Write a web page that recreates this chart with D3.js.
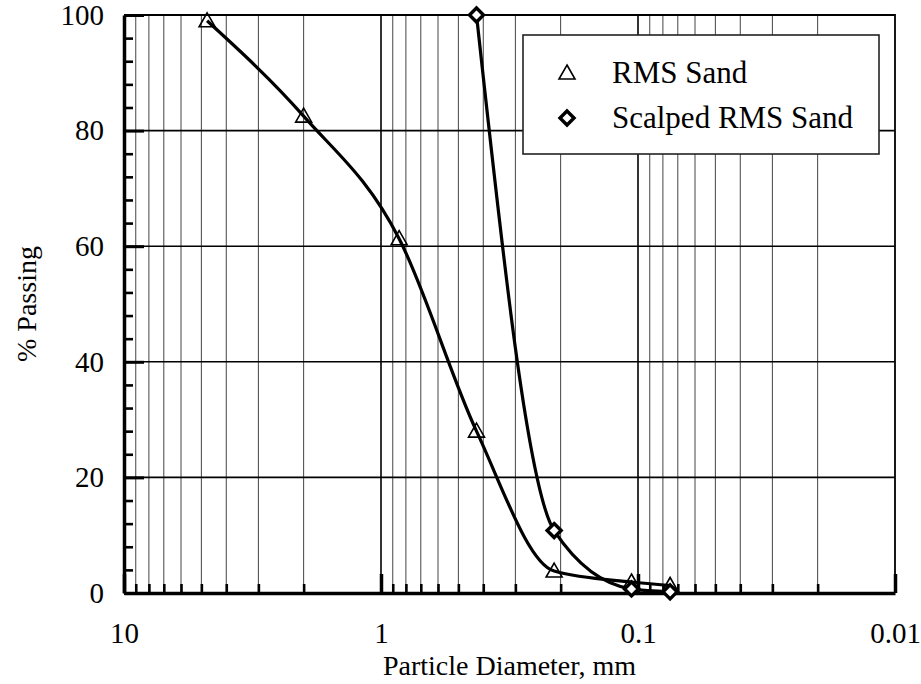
<!DOCTYPE html>
<html>
<head>
<meta charset="utf-8">
<script src="https://cdn.jsdelivr.net/npm/d3@7"></script>
<style>
  body { margin: 0; background: #fff; }
</style>
</head>
<body>
<div class="graph"></div>
<script>
// sieve sizes (mm) and % passing
const rmsSize = [4.75, 2.0, 0.85, 0.425, 0.212, 0.106, 0.075];
const rmsPassing = [99, 82.5, 61.3, 28, 3.8, 1.9, 1.3];
const scalpedSize = [0.425, 0.212, 0.106, 0.075];
const scalpedPassing = [100, 10.8, 0.7, 0.2];

const seriesNames = ['RMS Sand', 'Scalped RMS Sand'];
const xMajor = [10, 1, 0.1, 0.01];
const xMajorLabels = ['10', '1', '0.1', '0.01'];
const yMajor = [0, 20, 40, 60, 80, 100];

const FONT = 'Liberation Serif';
const W = 921, H = 684;
const m = { left: 124, right: 895, top: 15, bottom: 593 };

const svg = d3.select('.graph').append('svg').attr('width', W).attr('height', H);

const x = d3.scaleLog().domain([10, 0.01]).range([m.left, m.right]);
const y = d3.scaleLinear().domain([0, 100]).range([m.bottom, m.top]);

// every 1..9 multiple inside the three decades
const xMinor = x.ticks().filter(v => v > 0.01 && v < 10);
const yMinor = d3.range(0, 101, 4).filter(v => v % 20 !== 0);

// vertical grid
svg.append('g').selectAll('line')
    .data(xMinor)
    .enter().append('line')
    .attr('x1', d => x(d)).attr('x2', d => x(d))
    .attr('y1', m.top).attr('y2', m.bottom)
    .attr('stroke', d => xMajor.includes(d) ? '#000' : '#444')
    .attr('stroke-width', d => xMajor.includes(d) ? 1.6 : 1);

// horizontal grid
svg.append('g').selectAll('line')
    .data(yMajor.filter(v => v > 0 && v < 100))
    .enter().append('line')
    .attr('x1', m.left).attr('x2', m.right)
    .attr('y1', d => y(d)).attr('y2', d => y(d))
    .attr('stroke', '#000').attr('stroke-width', 1.6);

// top and right border
svg.append('path')
    .attr('d', `M${m.left},${m.top}H${m.right}V${m.bottom}`)
    .attr('fill', 'none').attr('stroke', '#000').attr('stroke-width', 1.8);

// bottom axis: minor ticks, then major ticks with labels
const xAxisMinor = d3.axisBottom(x).tickValues(xMinor).tickSizeInner(-9).tickSizeOuter(0).tickFormat('');
const gxm = svg.append('g').attr('transform', `translate(0,${m.bottom})`).call(xAxisMinor);
gxm.selectAll('.tick line').attr('stroke-width', 2.6);
gxm.select('.domain').remove();

const xAxis = d3.axisBottom(x).tickValues(xMajor).tickSizeInner(-19).tickSizeOuter(0)
    .tickPadding(29).tickFormat((d, i) => xMajorLabels[i]);
const gx = svg.append('g').attr('transform', `translate(0,${m.bottom})`).call(xAxis);
gx.selectAll('.tick line').attr('stroke-width', 3.5);
gx.select('.domain').attr('stroke-width', 3.5);
gx.selectAll('text').style('font-family', FONT).style('font-size', '29px');

// left axis
const yAxisMinor = d3.axisLeft(y).tickValues(yMinor).tickSizeInner(-9).tickSizeOuter(0).tickFormat('');
const gym = svg.append('g').attr('transform', `translate(${m.left},0)`).call(yAxisMinor);
gym.selectAll('.tick line').attr('stroke-width', 2.6);
gym.select('.domain').remove();

const yAxis = d3.axisLeft(y).tickValues(yMajor).tickSizeInner(-20).tickSizeOuter(0).tickPadding(20);
const gy = svg.append('g').attr('transform', `translate(${m.left},0)`).call(yAxis);
gy.selectAll('.tick line').attr('stroke-width', 3);
gy.select('.domain').attr('stroke-width', 3.5);
gy.selectAll('text').style('font-family', FONT).style('font-size', '29px');

// axis titles
svg.append('text')
    .attr('x', (m.left + m.right) / 2).attr('y', 675)
    .attr('text-anchor', 'middle')
    .style('font-family', FONT).style('font-size', '28px')
    .text('Particle Diameter, mm');
svg.append('text')
    .attr('transform', `translate(36,${(m.top + m.bottom) / 2}) rotate(-90)`)
    .attr('text-anchor', 'middle')
    .style('font-family', FONT).style('font-size', '28px')
    .text('% Passing');

// smoothed curves, no overshoot below the points
const line = d3.line().x(d => x(d[0])).y(d => y(d[1])).curve(d3.curveMonotoneX);
const rmsPts = d3.zip(rmsSize, rmsPassing);
const scalpedPts = d3.zip(scalpedSize, scalpedPassing);

svg.append('path').datum(rmsPts).attr('d', line)
    .attr('fill', 'none').attr('stroke', '#000').attr('stroke-width', 3.2);
svg.append('path').datum(scalpedPts).attr('d', line)
    .attr('fill', 'none').attr('stroke', '#000').attr('stroke-width', 3.2);

const triPath = 'M0,-8L8,6L-8,6Z';
const diaPath = 'M0,-7L7,0L0,7L-7,0Z';

svg.append('g').selectAll('path')
    .data(rmsPts).enter().append('path')
    .attr('d', triPath)
    .attr('transform', d => `translate(${x(d[0])},${y(d[1])})`)
    .attr('fill', 'none').attr('stroke', '#000').attr('stroke-width', 1.6);

svg.append('g').selectAll('path')
    .data(scalpedPts).enter().append('path')
    .attr('d', diaPath)
    .attr('transform', d => `translate(${x(d[0])},${y(d[1])})`)
    .attr('fill', '#fff').attr('stroke', '#000').attr('stroke-width', 3.4);

// legend
const lg = svg.append('g');
lg.append('rect').attr('x', 523).attr('y', 35).attr('width', 356).attr('height', 119)
    .attr('fill', '#fff').attr('stroke', '#222').attr('stroke-width', 1.6);
const items = lg.selectAll('g.item').data(seriesNames).enter().append('g')
    .attr('transform', (d, i) => `translate(567,${73 + i * 45})`);
items.append('path')
    .attr('d', (d, i) => i === 0 ? triPath : diaPath)
    .attr('fill', (d, i) => i === 0 ? 'none' : '#fff')
    .attr('stroke', '#000').attr('stroke-width', (d, i) => i === 0 ? 1.6 : 3.4);
items.append('text').attr('x', 45).attr('y', 10)
    .style('font-family', FONT).style('font-size', '31px').text(d => d);
</script>
</body>
</html>
